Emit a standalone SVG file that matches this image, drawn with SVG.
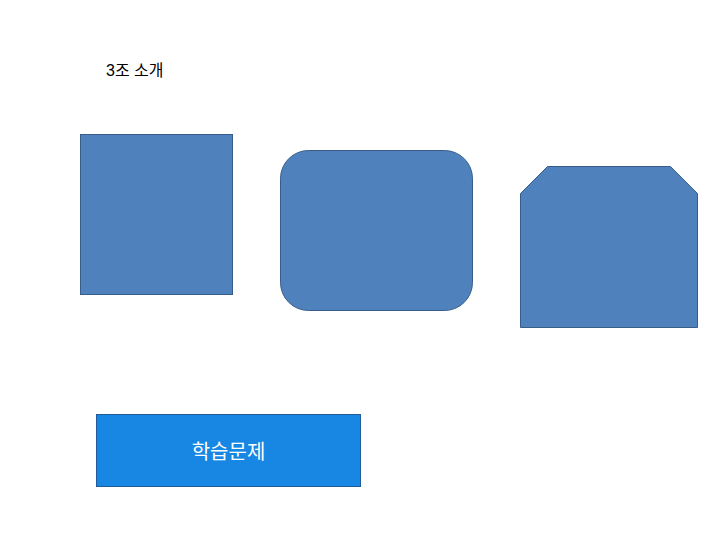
<svg xmlns="http://www.w3.org/2000/svg" width="720" height="540" viewBox="0 0 720 540">
<style>
.shape{fill:#4f81bd;stroke:#385d8a;stroke-width:1}
.btn{fill:#1787e3;stroke:#1f5c99;stroke-width:1}
.t{font-family:"Liberation Sans","Noto Sans CJK KR",sans-serif}
</style>
<rect width="720" height="540" fill="#ffffff"/>
<g id="title"><text class="t" x="106" y="76" font-size="16" fill="#000000">3조 소개</text></g>
<g id="square"><rect class="shape" x="80.5" y="134.5" width="152" height="160"/></g>
<g id="rounded"><rect class="shape" x="280.5" y="150.5" width="192" height="160" rx="28" ry="28"/></g>
<g id="snipped"><polygon class="shape" points="547.5,166.5 670.5,166.5 697.5,193.5 697.5,327.5 520.5,327.5 520.5,193.5"/></g>
<g id="button"><rect class="btn" x="96.5" y="414.5" width="264" height="72"/>
<text class="t" x="228.5" y="459" font-size="20" fill="#ffffff" text-anchor="middle">학습문제</text></g>
<g id="connectors"></g>
</svg>
